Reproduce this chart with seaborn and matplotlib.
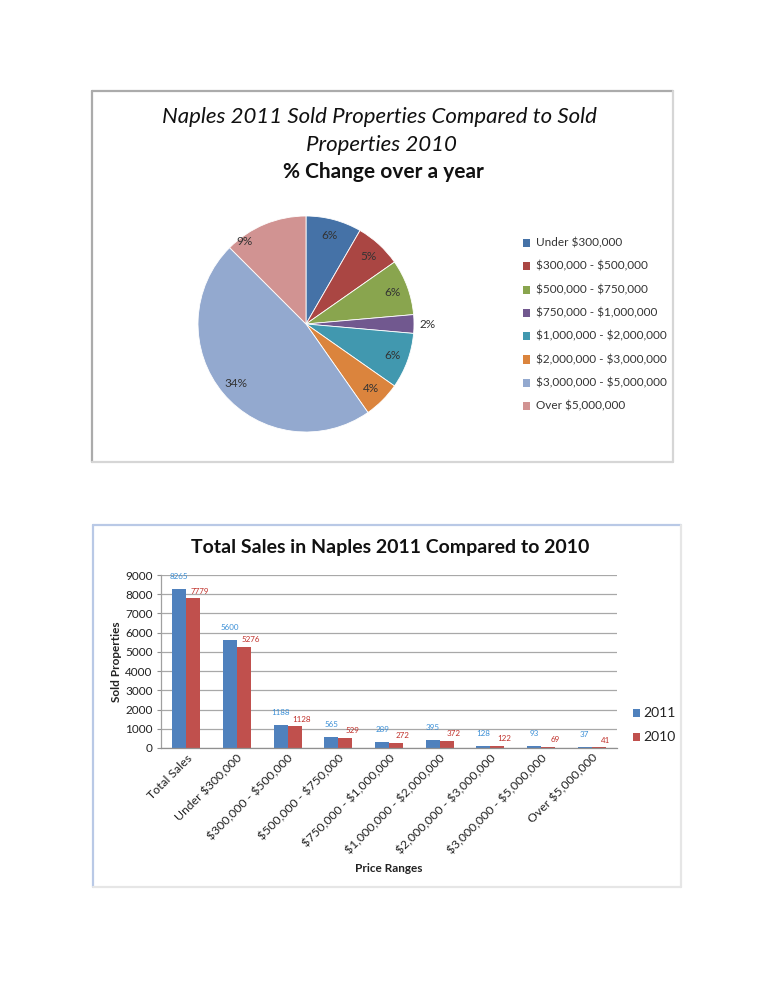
import matplotlib
matplotlib.use("Agg")
import matplotlib.pyplot as plt
import matplotlib.patches as mpatches
import numpy as np
import pandas as pd
import seaborn as sns

# ---------------- data ----------------
pie_labels = ["Under $300,000", "$300,000 - $500,000", "$500,000 - $750,000",
              "$750,000 - $1,000,000", "$1,000,000 - $2,000,000",
              "$2,000,000 - $3,000,000", "$3,000,000 - $5,000,000", "Over $5,000,000"]
pie_values = [6, 5, 6, 2, 6, 4, 34, 9]
pie_colors = ["#4572A7", "#AA4643", "#89A54E", "#71588F", "#4198AF",
              "#DB843D", "#93A9CF", "#D19392"]

bar_categories = ["Total Sales", "Under $300,000", "$300,000 - $500,000",
                  "$500,000 - $750,000", "$750,000 - $1,000,000",
                  "$1,000,000 - $2,000,000", "$2,000,000 - $3,000,000",
                  "$3,000,000 - $5,000,000", "Over $5,000,000"]
sales_2011 = [8265, 5600, 1188, 565, 289, 395, 128, 93, 37]
sales_2010 = [7779, 5276, 1128, 529, 272, 372, 122, 69, 41]
years = ["2011", "2010"]
bar_colors = ["#4F81BD", "#C0504D"]
label_colors = ["#3b8fd6", "#c0302a"]
y_ticks = [0, 1000, 2000, 3000, 4000, 5000, 6000, 7000, 8000, 9000]

# ---------------- setup ----------------
sns.set_theme(style="white")
FONT = ["Lato", "DejaVu Sans"]
plt.rcParams["font.family"] = FONT
plt.rcParams["text.parse_math"] = False

W, H = 768, 994
fig = plt.figure(figsize=(W / 100, H / 100), dpi=100)
fig.patch.set_facecolor("white")


def px_axes(x, y, w, h):
    return fig.add_axes([x / W, 1 - (y + h) / H, w / W, h / H])


def fx(x):
    return x / W


def fy(y):
    return 1 - y / H


# panel borders
def panel(x0, y0, x1, y1, c_tl, c_br, lw=1.6):
    fig.add_artist(plt.Line2D([fx(x0), fx(x1)], [fy(y0), fy(y0)], color=c_tl, lw=lw))
    fig.add_artist(plt.Line2D([fx(x0), fx(x0)], [fy(y0), fy(y1)], color=c_tl, lw=lw))
    fig.add_artist(plt.Line2D([fx(x1), fx(x1)], [fy(y0), fy(y1)], color=c_br, lw=lw))
    fig.add_artist(plt.Line2D([fx(x0), fx(x1)], [fy(y1), fy(y1)], color=c_br, lw=lw))


panel(92, 91, 673, 462, "#ababab", "#d6d6d6")
panel(93, 525, 681, 887, "#b9c9e6", "#e6e6e6")

# ---------------- pie chart ----------------
fig.text(fx(379), fy(117), "Naples 2011 Sold Properties Compared to Sold",
         ha="center", va="center", fontsize=16, style="italic", color="#111111")
fig.text(fx(381), fy(145), "Properties 2010",
         ha="center", va="center", fontsize=16, style="italic", color="#111111")
fig.text(fx(383), fy(172), "% Change over a year",
         ha="center", va="center", fontsize=15, fontweight="bold", color="#111111")

pax = px_axes(198, 216, 216, 216)
wedges, _ = pax.pie(pie_values, colors=pie_colors, startangle=90, counterclock=False,
                    radius=1.0, wedgeprops=dict(linewidth=0.6, edgecolor="white"))
pax.set_xlim(-1, 1)
pax.set_ylim(-1, 1)
pax.set_aspect("equal")
pax.axis("off")

for i, (w, v) in enumerate(zip(wedges, pie_values)):
    mid = (w.theta1 + w.theta2) / 2
    r = 0.85
    if v <= 2:
        r = 1.13
    if i == len(wedges) - 1:
        # the last label sits nearer the rim, as in the original
        mid += 14
        r = 0.95
    ang = np.deg2rad(mid)
    pax.text(r * np.cos(ang), r * np.sin(ang), f"{v}%", ha="center", va="center",
             fontsize=8.5, color="#333333", clip_on=False)

for i, (lab, col) in enumerate(zip(pie_labels, pie_colors)):
    yy = 243 + i * 23.3
    fig.add_artist(mpatches.Rectangle((fx(523), fy(yy + 4)), 7 / W, 8 / H,
                                      transform=fig.transFigure, facecolor=col,
                                      edgecolor="none"))
    fig.text(fx(536), fy(yy), lab, ha="left", va="center", fontsize=8.5, color="#333333")

# ---------------- bar chart ----------------
df = pd.DataFrame({
    "Price Ranges": bar_categories * 2,
    "Sold Properties": sales_2011 + sales_2010,
    "Year": [years[0]] * len(bar_categories) + [years[1]] * len(bar_categories),
})

bax = px_axes(161, 575, 456, 173)
sns.barplot(data=df, x="Price Ranges", y="Sold Properties", hue="Year",
            palette=bar_colors, width=0.55, saturation=1, ax=bax, legend=False,
            edgecolor="none")
bax.set_ylim(0, 9000)
bax.set_yticks(y_ticks)
bax.set_yticklabels([str(t) for t in y_ticks], fontsize=8.5, color="#222222")
bax.yaxis.grid(True, color="#a8a8a8", linewidth=0.9)
bax.set_axisbelow(True)
bax.tick_params(axis="y", length=3, width=0.8, color="#909090", pad=3, left=True)
bax.tick_params(axis="x", length=0, pad=3)
for s in ["top", "right"]:
    bax.spines[s].set_visible(False)
bax.spines["left"].set_color("#a0a0a0")
bax.spines["bottom"].set_color("#909090")
bax.spines["left"].set_linewidth(0.9)
bax.spines["bottom"].set_linewidth(0.9)

bax.set_xticks(range(len(bar_categories)))
bax.set_xticklabels(bar_categories, rotation=45, ha="right", rotation_mode="anchor",
                    fontsize=8.8, color="#222222")
bax.set_xlabel("Price Ranges", fontsize=8.5, fontweight="bold", labelpad=5, color="#222222")
bax.set_ylabel("Sold Properties", fontsize=8.5, fontweight="bold", labelpad=2, color="#222222")

for ci, (cont, lc) in enumerate(zip(bax.containers, label_colors)):
    for bar in cont:
        h = bar.get_height()
        cx = bar.get_x() + bar.get_width() / 2
        dx = 0 if ci == 0 else 5
        dy = 9 if ci == 0 else 5
        bax.annotate(f"{int(round(h))}", (cx, h), xytext=(dx, dy),
                     textcoords="offset points", ha="center", va="center",
                     fontsize=5.8, color=lc)

fig.text(fx(390), fy(547), "Total Sales in Naples 2011 Compared to 2010",
         ha="center", va="center", fontsize=14, fontweight="bold", color="#111111")

for i, (yr, col) in enumerate(zip(years, bar_colors)):
    yy = 713 + i * 24
    fig.add_artist(mpatches.Rectangle((fx(633), fy(yy + 4)), 7 / W, 8 / H,
                                      transform=fig.transFigure, facecolor=col,
                                      edgecolor="none"))
    fig.text(fx(643), fy(yy), yr, ha="left", va="center", fontsize=10, color="#222222")

fig.savefig("out.png", dpi=100, facecolor="white")
